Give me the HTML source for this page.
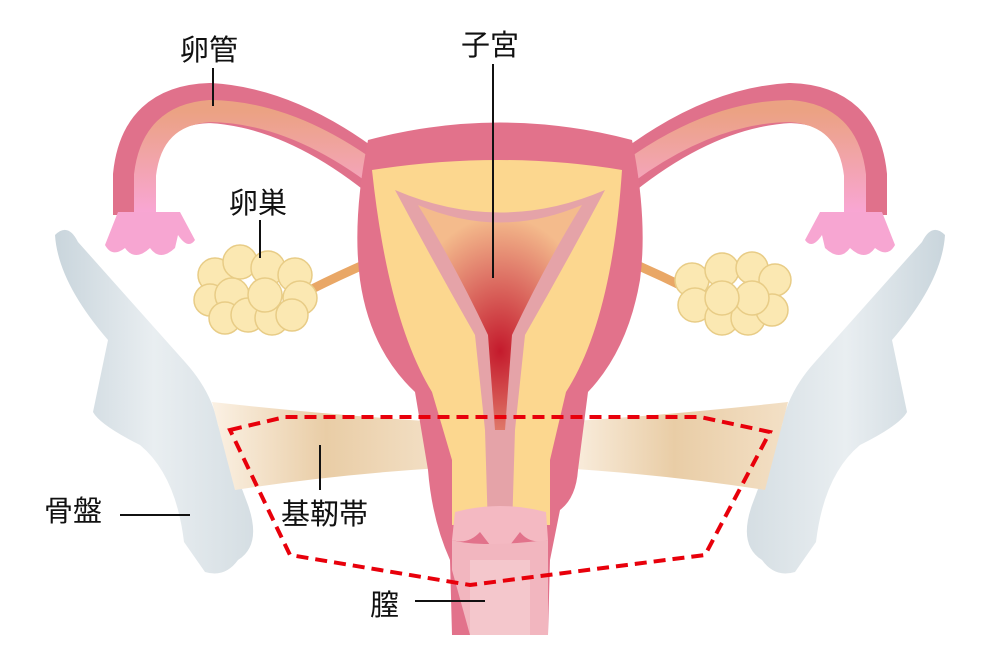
<!DOCTYPE html>
<html><head><meta charset="utf-8"><style>
html,body{margin:0;padding:0;background:#fff}
svg{display:block}
text{font-family:"Liberation Sans","Noto Sans CJK JP",sans-serif;font-size:29px;fill:#111}
</style></head><body>
<svg width="1000" height="671" viewBox="0 0 1000 671" xmlns="http://www.w3.org/2000/svg">
<defs>
<linearGradient id="bone" x1="0" y1="0" x2="1" y2="0">
<stop offset="0" stop-color="#c9d5dc"/><stop offset="0.5" stop-color="#e9eef1"/><stop offset="1" stop-color="#d5dee3"/></linearGradient>
<linearGradient id="lig" x1="0" y1="0" x2="1" y2="0">
<stop offset="0" stop-color="#fbf1e4"/><stop offset="0.5" stop-color="#e9cda6"/><stop offset="1" stop-color="#f3e0c6"/></linearGradient>
<linearGradient id="tube" x1="0" y1="0" x2="0" y2="1">
<stop offset="0" stop-color="#eba283"/><stop offset="1" stop-color="#f9a6d6"/></linearGradient>
<radialGradient id="cav" cx="0.5" cy="0.65" r="0.6">
<stop offset="0" stop-color="#c41a2c"/><stop offset="0.6" stop-color="#e07a6a"/><stop offset="1" stop-color="#f4bb8c"/></radialGradient>
</defs>
<g id="bn">
<path d="M55,235 Q68,222 78,242 L185,362 Q212,392 218,425 L248,505 Q262,545 238,560 Q225,578 205,572 L184,542 Q176,475 140,445 Q100,425 93,412 L108,340 Q58,282 55,235Z" fill="url(#bone)"/>
</g>
<use href="#bn" transform="translate(1000,0) scale(-1,1)"/>
<path d="M212,402 Q330,415 440,422 L440,468 Q330,475 235,490 Z" fill="url(#lig)"/>
<path d="M788,402 Q670,415 560,422 L560,468 Q670,475 765,490 Z" fill="url(#lig)"/>
<g fill="none">
<path d="M395,190 Q300,108 210,103 Q140,105 133,175 L133,215" stroke="#e0718b" stroke-width="40"/>
<path d="M395,190 Q300,112 210,111 Q152,115 145,175 L145,215" stroke="url(#tube)" stroke-width="22"/>
<path d="M605,190 Q700,108 790,103 Q860,105 867,175 L867,215" stroke="#e0718b" stroke-width="40"/>
<path d="M605,190 Q700,112 790,111 Q848,115 855,175 L855,215" stroke="url(#tube)" stroke-width="22"/>
</g>
<path d="M105,245 L118,212 L180,212 L195,240 Q188,250 178,235 L175,248 Q160,262 150,248 Q135,262 125,248 Q112,258 105,245Z" fill="#f7a6d2"/>
<path d="M895,245 L882,212 L820,212 L805,240 Q812,250 822,235 L825,248 Q840,262 850,248 Q865,262 875,248 Q888,258 895,245Z" fill="#f7a6d2"/>
<path d="M310,290 Q340,275 370,262" stroke="#e9a766" stroke-width="9" fill="none"/>
<path d="M690,290 Q660,275 630,262" stroke="#e9a766" stroke-width="9" fill="none"/>
<g fill="#fbe8b2" stroke="#e8cc86" stroke-width="1.5">
<circle cx="215" cy="275" r="17"/><circle cx="240" cy="262" r="17"/><circle cx="268" cy="268" r="17"/><circle cx="295" cy="275" r="17"/>
<circle cx="210" cy="300" r="16"/><circle cx="232" cy="295" r="17"/><circle cx="300" cy="298" r="17"/>
<circle cx="225" cy="318" r="16"/><circle cx="248" cy="315" r="17"/><circle cx="272" cy="318" r="17"/><circle cx="292" cy="315" r="16"/>
<circle cx="265" cy="295" r="17"/>
<circle cx="692" cy="280" r="17"/><circle cx="722" cy="270" r="17"/><circle cx="752" cy="268" r="16"/><circle cx="775" cy="280" r="16"/>
<circle cx="695" cy="305" r="17"/><circle cx="722" cy="318" r="17"/><circle cx="748" cy="318" r="17"/><circle cx="772" cy="310" r="16"/>
<circle cx="752" cy="298" r="17"/><circle cx="722" cy="298" r="17"/>
</g>
<path d="M368,140 Q500,105 632,140 Q648,220 640,280 Q628,350 588,392 L578,470 Q576,498 560,510 L550,560 L548,635 L452,635 L450,560 Q432,520 428,470 L415,392 Q370,350 360,280 Q352,220 368,140Z" fill="#e2728b"/>
<path d="M372,170 Q500,150 622,170 Q612,320 566,392 L550,460 L550,525 L452,525 L452,460 L432,392 Q388,320 372,170Z" fill="#fcd78f"/>
<path d="M395,190 Q500,235 605,190 Q565,265 525,335 L515,430 L512,530 L488,530 L485,430 L475,335 Q435,265 395,190Z" fill="#e5a3a8"/>
<path d="M418,205 Q500,240 582,205 Q545,265 512,335 L505,430 L495,430 L488,335 Q455,265 418,205Z" fill="url(#cav)"/>
<path d="M455,512 Q500,500 546,512 L548,540 Q530,545 520,532 L510,545 Q500,550 490,545 L480,532 Q468,545 452,540Z" fill="#f4b9c2"/>
<path d="M452,540 Q480,548 548,540 L548,635 L470,635 L452,570Z" fill="#f2b6bf"/>
<path d="M470,560 L530,560 L530,635 L470,635Z" fill="#f4c7cc"/>
<polygon points="230,430 285,417 700,417 770,432 705,555 470,585 290,555" fill="none" stroke="#e8000b" stroke-width="4" stroke-dasharray="12,7"/>
<g stroke="#111" stroke-width="2">
<line x1="213" y1="68" x2="213" y2="106"/>
<line x1="493" y1="64" x2="493" y2="278"/>
<line x1="260" y1="220" x2="260" y2="258"/>
<line x1="120" y1="515" x2="190" y2="515"/>
<line x1="320" y1="445" x2="320" y2="490"/>
<line x1="415" y1="601" x2="485" y2="601"/>
</g>
<text x="180" y="60">卵管</text>
<text x="461" y="55">子宮</text>
<text x="229" y="213">卵巣</text>
<text x="44" y="521">骨盤</text>
<text x="281" y="524">基靭帯</text>
<text x="370" y="615">膣</text>
</svg>
</body></html>
